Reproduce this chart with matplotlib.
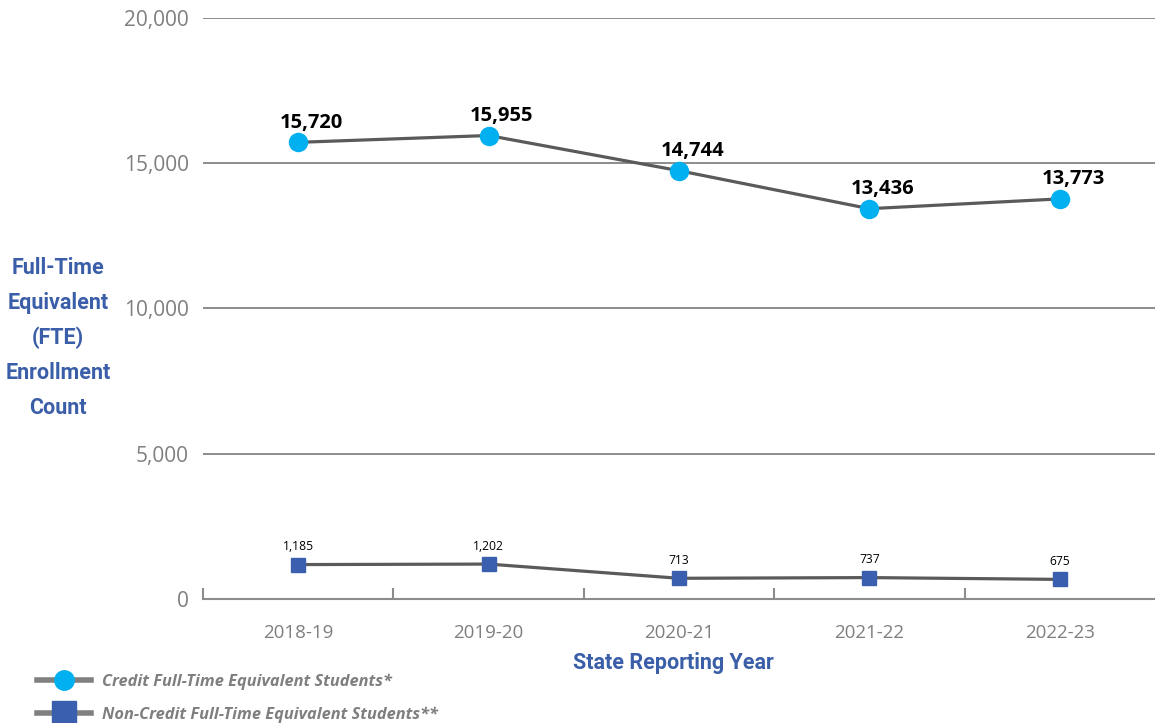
import matplotlib.pyplot as plt
from matplotlib.lines import Line2D

# FTE enrollment by state reporting year
years = ['2018-19', '2019-20', '2020-21', '2021-22', '2022-23']
credit_fte = [15720, 15955, 14744, 13436, 13773]
noncredit_fte = [1185, 1202, 713, 737, 675]

blue_txt = '#3b5ea9'
gray_txt = '#7f7f7f'
line_col = '#5a5a5a'

plt.rcParams['font.family'] = ['Open Sans', 'DejaVu Sans']

fig = plt.figure(figsize=(11.55, 7.23), dpi=100)
ax = fig.add_axes([203 / 1155, 124 / 723, 1 - 203 / 1155, (599 - 18) / 723])

x = list(range(len(years)))
ax.plot(x, credit_fte, color=line_col, lw=2.3, marker='o', ms=13,
        mfc='#00b0f0', mec='#00b0f0', zorder=3)
ax.plot(x, noncredit_fte, color=line_col, lw=2.3, marker='s', ms=10,
        mfc='#3a5fae', mec='#3a5fae', zorder=3)

for i, v in enumerate(credit_fte):
    ax.annotate(f'{v:,}', (i, v), xytext=(9.5, 7), textcoords='offset points',
                ha='center', va='bottom', fontsize=14.5, fontweight='bold', color='black')
for i, v in enumerate(noncredit_fte):
    ax.annotate(f'{v:,}', (i, v), xytext=(0, 8), textcoords='offset points',
                ha='center', va='bottom', fontsize=8.7, color='black')

ax.set_xlim(-0.5, 4.5)
ax.set_ylim(0, 20000)
ax.set_yticks([0, 5000, 10000, 15000, 20000])
ax.set_yticklabels(['0', '5,000', '10,000', '15,000', '20,000'])
ax.set_xticks(x)
ax.set_xticklabels(years)
ax.set_xticks([-0.5, 0.5, 1.5, 2.5, 3.5], minor=True)
ax.tick_params(axis='x', which='major', length=0, pad=18, labelsize=13.5, labelcolor=gray_txt)
ax.tick_params(axis='x', which='minor', direction='in', length=8, width=1.5, color='#8c8c8c')
ax.tick_params(axis='y', length=0, pad=10, labelsize=15, labelcolor=gray_txt)

ax.grid(axis='y', color='#8c8c8c', lw=1.4)
ax.set_axisbelow(True)
for s in ['top', 'right', 'left']:
    ax.spines[s].set_visible(False)
ax.spines['bottom'].set_color('#8c8c8c')
ax.spines['bottom'].set_linewidth(1.5)

fig.text(58 / 1155, 1 - 338 / 723, 'Full-Time\nEquivalent\n(FTE)\nEnrollment\nCount',
         ha='center', va='center', fontsize=15.5, fontweight='bold', color=blue_txt,
         family=['Roboto', 'DejaVu Sans'], linespacing=1.75)
fig.text(673 / 1155, 1 - 663 / 723, 'State Reporting Year', ha='center', va='center',
         fontsize=15.5, fontweight='bold', color=blue_txt, family=['Roboto', 'DejaVu Sans'])

handles = [
    Line2D([], [], color='#808080', lw=4, marker='o', ms=14, mfc='#00b0f0', mec='#00b0f0'),
    Line2D([], [], color='#808080', lw=4, marker='s', ms=17, mfc='#3a5fae', mec='#3a5fae'),
]
labels = ['Credit Full-Time Equivalent Students*', 'Non-Credit Full-Time Equivalent Students**']
leg = fig.legend(handles, labels, loc='upper left', bbox_to_anchor=(30 / 1155, 1 - 667 / 723),
                 frameon=False, handlelength=3.3, handletextpad=0.7, labelspacing=1.0,
                 borderaxespad=0, prop={'size': 11.8, 'weight': 'bold', 'style': 'italic'})
for t in leg.get_texts():
    t.set_color(gray_txt)

fig.savefig('out.png', dpi=100)
